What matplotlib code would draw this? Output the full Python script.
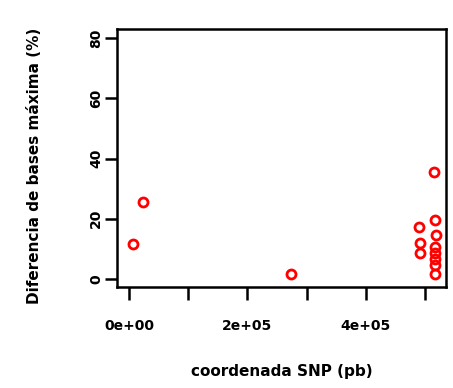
import matplotlib
matplotlib.use("Agg")
import matplotlib.pyplot as plt

# SNP coordinate (bp) and max base difference (%)
snp_pos = [7000, 24000, 273000, 515000, 490000, 516000, 518000, 491000,
           491000, 517000, 517000, 517000, 517000, 517000]
max_diff = [11.5, 25.5, 1.7, 35.4, 17.3, 19.5, 14.5, 11.8,
            8.6, 10.5, 8.5, 6.5, 4.5, 1.7]

x_ticks = [0, 100000, 200000, 300000, 400000, 500000]
x_labels = ["0e+00", "", "2e+05", "", "4e+05", ""]
y_ticks = [0, 20, 40, 60, 80]

fig = plt.figure(figsize=(4.53, 3.88), dpi=100)
ax = fig.add_axes([0.258, 0.260, 0.727, 0.665])

ax.plot(snp_pos, max_diff, linestyle="none", marker="o", markersize=6.5,
        markerfacecolor="none", markeredgecolor="red", markeredgewidth=2)

ax.set_xlim(-20300, 535500)
ax.set_ylim(-2.7, 83.0)
ax.set_xticks(x_ticks)
ax.set_xticklabels(x_labels, fontsize=10, fontweight="bold")
ax.set_yticks(y_ticks)
ax.set_yticklabels([str(v) for v in y_ticks], fontsize=10, fontweight="bold",
                   rotation=90, va="center")

for s in ax.spines.values():
    s.set_linewidth(1.8)
ax.tick_params(length=9, width=1.8)
ax.tick_params(axis="x", pad=14)
ax.tick_params(axis="y", pad=1)

ax.set_xlabel("coordenada SNP (pb)", fontsize=11, fontweight="bold", labelpad=22)
ax.set_ylabel("Diferencia de bases máxima (%)", fontsize=11, fontweight="bold",
              labelpad=34, y=0.47)

fig.savefig("out.png", dpi=100)
